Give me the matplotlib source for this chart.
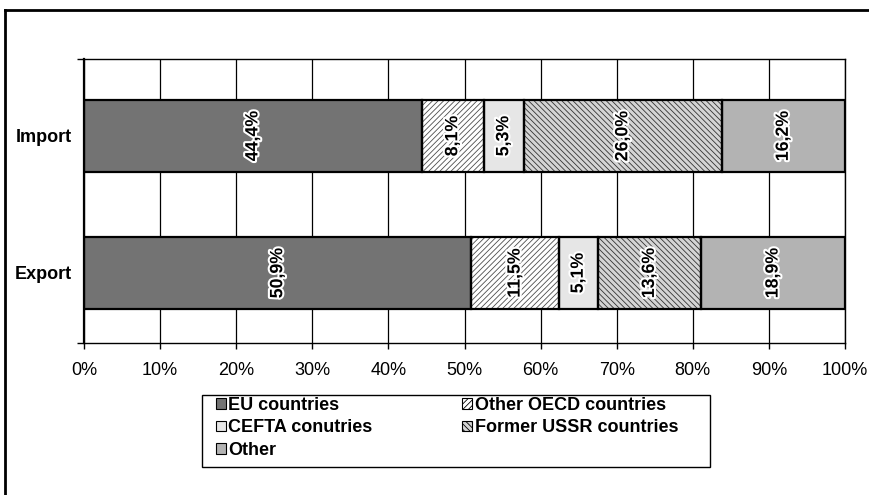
import matplotlib
matplotlib.use('Agg')
import matplotlib.pyplot as plt
from matplotlib.patches import Patch, Rectangle
from matplotlib.lines import Line2D
import matplotlib.patheffects as pe

plt.rcParams.update({
    "font.family": "Liberation Sans",
    "hatch.linewidth": 0.6,
})

# data (bottom bar first)
categories = ['Export', 'Import']
eu = [50.9, 44.4]
oecd = [11.5, 8.1]
cefta = [5.1, 5.3]
ussr = [13.6, 26.0]
other = [18.9, 16.2]
series_names = ['EU countries', 'Other OECD countries', 'CEFTA conutries',
                'Former USSR countries', 'Other']
xticks = [0, 10, 20, 30, 40, 50, 60, 70, 80, 90, 100]

# look of each series: face, hatch, hatch colour
styles = [
    ('#737373', None, '#737373'),
    ('white', '//////', '#4d4d4d'),
    ('#e6e6e6', None, '#e6e6e6'),
    ('#d4d4d4', '\\\\\\\\\\\\', '#333333'),
    ('#b3b3b3', None, '#b3b3b3'),
]

W, H = 869, 495
fig = plt.figure(figsize=(W / 100, H / 100), dpi=100)
ax = fig.add_axes([84 / W, 1 - 343 / H, (845 - 84) / W, (343 - 59) / H])

ypos = list(range(len(categories)))
bar_h = 0.526
left = [0.0] * len(categories)
for vals, (fc, hatch, hc) in zip([eu, oecd, cefta, ussr, other], styles):
    # fill + hatch, then black outline on top
    ax.barh(ypos, vals, left=left, height=bar_h, color=fc, hatch=hatch,
            edgecolor=hc, linewidth=0, zorder=2)
    ax.barh(ypos, vals, left=left, height=bar_h, facecolor='none',
            edgecolor='black', linewidth=1.6, zorder=3)
    for y, l, v in zip(ypos, left, vals):
        txt = f'{v:.1f}'.replace('.', ',') + '%'
        ax.text(l + v / 2, y, txt, rotation=90, ha='center', va='center',
                fontsize=12.8, fontweight='bold', color='black', zorder=4,
                path_effects=[pe.withStroke(linewidth=3, foreground='white')])
    left = [a + b for a, b in zip(left, vals)]

ax.set_xlim(0, 100)
ax.set_ylim(-0.511, 1.562)
ax.set_xticks(xticks)
ax.set_xticklabels([f'{t}%' for t in xticks], fontsize=13)
ax.set_yticks(ypos)
ax.set_yticklabels(categories, fontsize=13, fontweight='bold')
ax.set_yticks([-0.511, 1.562], minor=True)
ax.tick_params(axis='y', which='major', length=0, pad=9)
ax.tick_params(axis='y', which='minor', length=5, width=1, direction='out')
ax.tick_params(axis='x', length=4, width=1, direction='out', pad=10)
ax.grid(axis='x', color='black', linewidth=0.9)
ax.set_axisbelow(True)
for s in ax.spines.values():
    s.set_color('black')
    s.set_linewidth(1.0)
ax.spines['left'].set_linewidth(1.6)

# legend: box drawn separately, it is wider than its entries
fig.add_artist(Rectangle((202 / W, 1 - 467 / H), (710 - 202) / W, 72 / H,
                         transform=fig.transFigure, facecolor='white',
                         edgecolor='black', linewidth=1.0, zorder=1))
handles = [Patch(facecolor=fc, hatch=h, edgecolor='black', linewidth=0.8)
           for fc, h, _ in styles]
order = [0, 2, 4, 1, 3]
leg = fig.legend([handles[i] for i in order], [series_names[i] for i in order],
                 loc='upper left', bbox_to_anchor=(212 / W, 1 - 393 / H),
                 ncol=2, frameon=False, prop={'size': 13, 'weight': 'bold'},
                 handlelength=0.55, handleheight=0.55, handletextpad=0.15,
                 columnspacing=4.95, labelspacing=0.32, borderpad=0.2,
                 borderaxespad=0)
leg.set_zorder(2)

# outer frame of the chart (only left and top edges visible)
fig.add_artist(Line2D([5 / W, 5 / W], [0, 1 - 10 / H], transform=fig.transFigure,
                      color='black', linewidth=2))
fig.add_artist(Line2D([5 / W, 1], [1 - 10 / H, 1 - 10 / H],
                      transform=fig.transFigure, color='black', linewidth=2))

fig.savefig('out.png', dpi=100)
